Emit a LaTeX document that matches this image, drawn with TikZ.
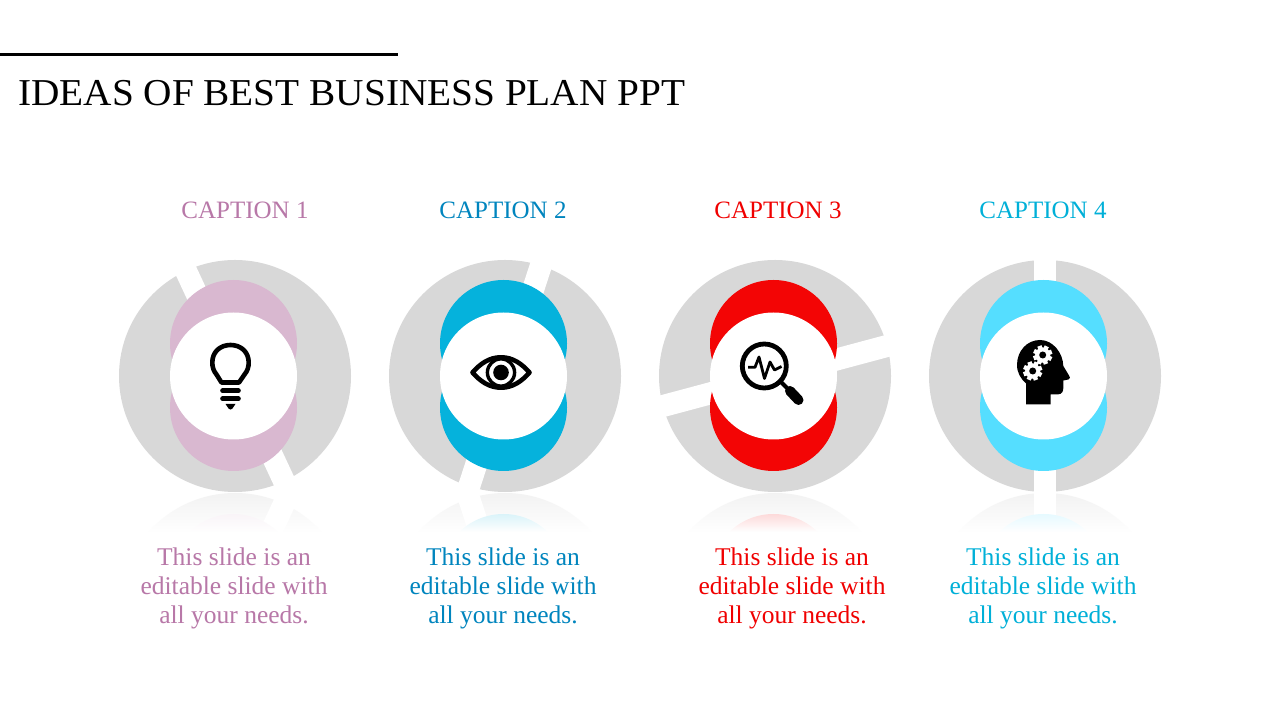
\documentclass[tikz,border=0pt]{standalone}
\usepackage{fontspec}
\setmainfont{Liberation Serif}
\newfontfamily\titlefont[FakeStretch=1.034]{Liberation Serif}
\usetikzlibrary{fadings}
\definecolor{ringgray}{HTML}{D8D8D8}
\definecolor{discA}{HTML}{D9B8D0}
\definecolor{discB}{HTML}{05B2DC}
\definecolor{discC}{HTML}{F30505}
\definecolor{discD}{HTML}{55DEFF}
\definecolor{textA}{HTML}{B878A8}
\definecolor{textB}{HTML}{0085BE}
\definecolor{textC}{HTML}{F00000}
\definecolor{textD}{HTML}{00B0D8}
\tikzfading[name=reflfade, top color=transparent!32, bottom color=transparent!0]
\tikzset{
  titletext/.style={font=\titlefont\fontsize{38}{38}\selectfont, anchor=base west, inner sep=0pt},
  captext/.style={font=\fontsize{25}{25}\selectfont, anchor=base, inner sep=0pt},
  bodytext/.style={font=\fontsize{25.5}{29}\selectfont, align=center, anchor=center, inner sep=0pt},
  iconline/.style={draw=black, line width=4.6pt, line join=round},
}
% ring centre x offset of disc, gap angle, colour
\newcommand{\discset}[3]{%
  \fill[ringgray] (0,0) circle (116pt);
  \fill[white, rotate=#2] (-11,-126) rectangle (11,126);
  \fill[#3] (-1.5,-32.5) circle (63.5pt);
  \fill[#3] (-1.5,31.5) circle (63.5pt);
  \fill[white] (-1.5,0) circle (63.5pt);
}
\newcommand{\ideaunit}[3]{%
  \begin{scope}
    \clip (#1-130,492.5) rectangle (#1+130,532);
    \begin{scope}[shift={(#1pt,-609pt)}, yscale=-1]
      \discset{0}{#2}{#3}
    \end{scope}
    \fill[white, path fading=reflfade] (#1-130,492.5) rectangle (#1+130,532);
  \end{scope}
  \begin{scope}[shift={(#1pt,-376pt)}]
    \discset{0}{#2}{#3}
  \end{scope}
}
\newcommand{\gearat}[2]{%
  \fill[white] (#1,#2) circle (7.6pt);
  \foreach \a in {0,45,...,315}{
    \fill[white, shift={(#1pt,-#2pt)}, rotate=\a+20] (-2.2,6) rectangle (2.2,9.6);
  }
  \fill[black] (#1,#2) circle (3.5pt);
}
\begin{document}
\begin{tikzpicture}[x=1pt,y=-1pt,shift={(0pt,720pt)}]
\useasboundingbox (0,0) rectangle (1280,720);
\fill[white] (0,0) rectangle (1280,720);

\coordinate (ruleL) at (0,55);
\coordinate (ruleR) at (398,55);
\draw[line width=3pt] (ruleL) -- (ruleR);
\node[titletext] (title) at (18,106) {IDEAS OF BEST BUSINESS PLAN PPT};

\ideaunit{235}{25}{discA}
\ideaunit{505}{-18}{discB}
\ideaunit{775}{-75}{discC}
\ideaunit{1045}{0}{discD}

\node[captext, text=textA] (cap1) at (245,219) {CAPTION 1};
\node[captext, text=textB] (cap2) at (503,219) {CAPTION 2};
\node[captext, text=textC] (cap3) at (778,219) {CAPTION 3};
\node[captext, text=textD] (cap4) at (1043,219) {CAPTION 4};

\node[bodytext, text=textA] (body1) at (234,588) {This slide is an\\editable slide with\\all your needs.};
\node[bodytext, text=textB] (body2) at (503,588) {This slide is an\\editable slide with\\all your needs.};
\node[bodytext, text=textC] (body3) at (792,588) {This slide is an\\editable slide with\\all your needs.};
\node[bodytext, text=textD] (body4) at (1043,588) {This slide is an\\editable slide with\\all your needs.};

% bulb
\draw[iconline] (221.5,382.5) -- (216.5,374.5) .. controls (213.5,371) and (212.3,367) .. (212.3,362.5)
  .. controls (212.3,352) and (220,345) .. (230.5,345)
  .. controls (241,345) and (248.7,352) .. (248.7,362.5)
  .. controls (248.7,367) and (247.5,371) .. (244.5,374.5) -- (239,382.5) -- cycle;
\draw[line width=4.6pt, line cap=round] (222.5,390.7) -- (238.5,390.7);
\draw[line width=4.6pt, line cap=round] (222.5,398.7) -- (238.5,398.7);
\fill[black] (225.5,404) -- (235.5,404) -- (232.5,408.5) .. controls (231,410) and (230,410) .. (228.5,408.5) -- cycle;

% eye
\draw[iconline] (472.5,372.5) .. controls (480,364) and (489,357.3) .. (501,357.3)
  .. controls (513,357.3) and (522,364) .. (529.5,372.5)
  .. controls (522,381) and (513,387.7) .. (501,387.7)
  .. controls (489,387.7) and (480,381) .. (472.5,372.5) -- cycle;
\draw[line width=3.4pt] (501,372.5) circle (13.6pt);
\fill[black] (501,372.5) circle (7.8pt);

% magnifier
\draw[line width=4.8pt] (764.3,366) circle (22pt);
\draw[line width=4pt] (781,382) -- (790,391);
\draw[line width=10pt, line cap=round] (790,391) -- (798.5,400);
\draw[line width=2.8pt, line join=round] (748,367.3) -- (755,367.3) -- (759,357) -- (764.5,378.5) -- (770,362) -- (774.5,370) -- (781.5,366.5);

% head
\fill[black] (1040,340) .. controls (1027,340) and (1017,351) .. (1017,365)
  .. controls (1017,373) and (1021,379) .. (1026,383.3)
  -- (1026,404.3) -- (1050.7,404.3) -- (1050.7,394.3) -- (1058.3,394.3)
  .. controls (1061.5,394.3) and (1063.3,391.5) .. (1063.3,388.3)
  -- (1063.3,380.5) -- (1068.5,379.5) .. controls (1070.5,378.5) and (1070.2,377) .. (1069,375.5)
  -- (1063.3,366) .. controls (1063,353) and (1053,340) .. (1040,340) -- cycle;
\gearat{1042.7}{355}
\gearat{1032.7}{371}
\end{tikzpicture}
\end{document}
